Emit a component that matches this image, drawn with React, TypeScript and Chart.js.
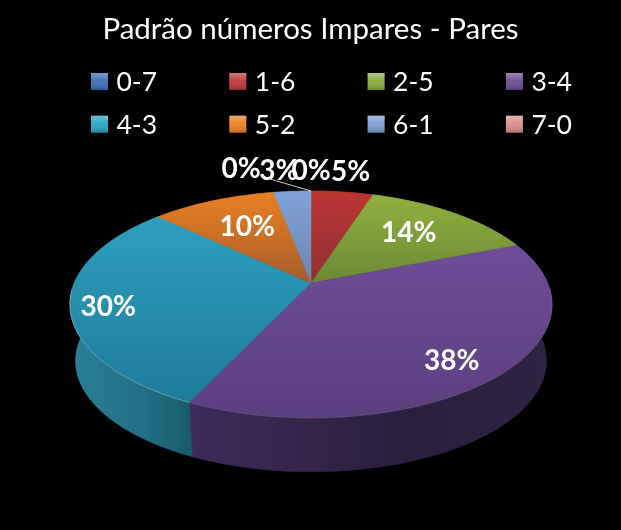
import React, { useEffect, useRef } from "react";
import { Chart, registerables } from "chart.js";

Chart.register(...registerables);

const titleText = "Padrão números Impares - Pares";
const categories = ["0-7", "1-6", "2-5", "3-4", "4-3", "5-2", "6-1", "7-0"];
const values = [0, 5, 14, 38, 30, 10, 3, 0];

// slice styles
const swatchColors = ["#3f6fb5", "#bd3a3c", "#8cae42", "#6c4e96", "#2aa5c3", "#e98226", "#7f9fd2", "#d98f8b"];
const faceLight = ["#4a7ebb", "#bd3535", "#90b03f", "#6e4e97", "#2e9fbf", "#e98022", "#80a2d6", "#d98f8b"];
const faceDark = ["#3a6399", "#8f2f30", "#6c8935", "#5b3e7f", "#1f7b98", "#a65d2a", "#6c86ae", "#b07470"];
const wallStart = ["#2b4a73", "#6d2424", "#556b2a", "#3f2b5c", "#2a8098", "#8a4f1a", "#54688a", "#8a5c58"];
const wallMid = ["#2b4a73", "#6d2424", "#556b2a", "#2a1f3e", "#236f85", "#8a4f1a", "#54688a", "#8a5c58"];
const wallEnd = ["#2b4a73", "#6d2424", "#556b2a", "#2e2344", "#195a6c", "#8a4f1a", "#54688a", "#8a5c58"];
const rimAlpha = [0, 0, 0, 0.1, 0.3, 0, 0, 0];

// per-label layout: radial position on the pie and small nudges in px
const labelRadius = [1.29, 1.29, 0.68, 0.81, 0.85, 0.66, 1.29, 1.29];
const labelNudge = [[0, 1], [1, 1], [-3, 0], [-7, 5], [1, 6], [4, 1], [-9, 1], [-70, -1]];
const leaderIndex = 7;

// perspective of the pie
const CX = 311, APEX_Y = 283, HALF_W = 236.7, HALF_H = 109.4, P = -0.189;
const FLOOR_Y = 340, FLOOR_SCALE = 0.977;

const project = (u: number, v: number, floor = false): [number, number] => {
  const d = 1 + P * v;
  const s = floor ? FLOOR_SCALE : 1;
  return [CX + (s * HALF_W * u) / d, (floor ? FLOOR_Y : APEX_Y) + (s * HALF_H * v) / d];
};

const samples = (a0: number, a1: number) => {
  const out: [number, number][] = [];
  const n = Math.max(2, Math.ceil((a1 - a0) / 0.01));
  for (let i = 0; i <= n; i++) {
    const a = a0 + ((a1 - a0) * i) / n;
    out.push([Math.cos(a), Math.sin(a)]);
  }
  return out;
};

const pie3d = {
  id: "pie3d",
  beforeDatasetsDraw(chart: any) {
    const ctx: CanvasRenderingContext2D = chart.ctx;
    const arcs = chart.getDatasetMeta(0).data;
    ctx.save();
    // side walls
    arcs.forEach((arc: any, i: number) => {
      if (arc.endAngle - arc.startAngle < 1e-4) return;
      const pts = samples(arc.startAngle, arc.endAngle);
      const top = pts.map(([u, v]) => project(u, v));
      const floor = pts.map(([u, v]) => project(u, v, true));
      const xs = top.concat(floor).map((p) => p[0]);
      const g = ctx.createLinearGradient(Math.min(...xs), 0, Math.max(...xs), 0);
      g.addColorStop(0, wallStart[i]);
      g.addColorStop(0.6, wallMid[i]);
      g.addColorStop(1, wallEnd[i]);
      ctx.fillStyle = g;
      ctx.strokeStyle = g;
      ctx.lineWidth = 0.5;
      ctx.beginPath();
      top.forEach((p, k) => (k ? ctx.lineTo(p[0], p[1]) : ctx.moveTo(p[0], p[1])));
      floor.reverse().forEach((p) => ctx.lineTo(p[0], p[1]));
      ctx.closePath();
      ctx.fill();
      ctx.stroke();
    });
    // top faces
    arcs.forEach((arc: any, i: number) => {
      if (arc.endAngle - arc.startAngle < 1e-4) return;
      const top = samples(arc.startAngle, arc.endAngle).map(([u, v]) => project(u, v));
      const ys = top.map((p) => p[1]).concat(APEX_Y);
      const g = ctx.createLinearGradient(0, Math.min(...ys), 0, Math.max(...ys));
      g.addColorStop(0, faceLight[i]);
      g.addColorStop(1, faceDark[i]);
      ctx.fillStyle = g;
      ctx.strokeStyle = g;
      ctx.lineWidth = 0.5;
      ctx.beginPath();
      ctx.moveTo(CX, APEX_Y);
      top.forEach((p) => ctx.lineTo(p[0], p[1]));
      ctx.closePath();
      ctx.fill();
      ctx.stroke();
    });
    // lit front rim
    ctx.lineWidth = 1;
    arcs.forEach((arc: any, i: number) => {
      if (arc.endAngle - arc.startAngle < 1e-4 || !rimAlpha[i]) return;
      ctx.strokeStyle = `rgba(255,255,255,${rimAlpha[i]})`;
      ctx.beginPath();
      let started = false;
      samples(arc.startAngle, arc.endAngle).forEach(([u, v]) => {
        if (v < 0.05) return;
        const p = project(u, v);
        if (started) ctx.lineTo(p[0], p[1]);
        else ctx.moveTo(p[0], p[1]);
        started = true;
      });
      ctx.stroke();
    });
    ctx.restore();
    return false;
  },
  afterDraw(chart: any) {
    const ctx: CanvasRenderingContext2D = chart.ctx;
    const arcs = chart.getDatasetMeta(0).data;
    const total = values.reduce((a, b) => a + b, 0);
    ctx.save();
    // legend
    ctx.font = "400 26.5px Lato";
    ctx.textBaseline = "middle";
    ctx.textAlign = "left";
    categories.forEach((name, i) => {
      const x = 91 + 138.3 * (i % 4);
      const y = 81.5 + 42.7 * Math.floor(i / 4);
      ctx.fillStyle = swatchColors[i];
      ctx.fillRect(x, y - 8.5, 17, 17);
      const g = ctx.createLinearGradient(0, y - 8, 0, y + 8);
      g.addColorStop(0, "rgba(255,255,255,0.3)");
      g.addColorStop(0.45, "rgba(255,255,255,0.05)");
      g.addColorStop(1, "rgba(0,0,0,0.18)");
      ctx.fillStyle = g;
      ctx.fillRect(x, y - 8.5, 17, 17);
      ctx.fillStyle = "#ffffff";
      ctx.fillText(name, x + 25.5, y + 1);
    });
    // leader line
    const lead = arcs[leaderIndex];
    const [lx, ly] = project(Math.cos(lead.startAngle), Math.sin(lead.startAngle));
    ctx.strokeStyle = "#ffffff";
    ctx.lineWidth = 0.8;
    ctx.beginPath();
    ctx.moveTo(lx, ly);
    ctx.lineTo(lx - 41, ly - 12);
    ctx.stroke();
    // value labels
    ctx.font = "700 28px Lato";
    ctx.textAlign = "center";
    arcs.forEach((arc: any, i: number) => {
      const mid = (arc.startAngle + arc.endAngle) / 2;
      const r = labelRadius[i];
      const [x, y] = project(r * Math.cos(mid), r * Math.sin(mid));
      const pct = Math.round((values[i] / total) * 100) + "%";
      ctx.fillText(pct, x + labelNudge[i][0], y + labelNudge[i][1]);
    });
    ctx.restore();
  },
};

export default function App() {
  const ref = useRef<HTMLCanvasElement>(null);
  useEffect(() => {
    const chart = new Chart(ref.current as HTMLCanvasElement, {
      type: "pie",
      data: { labels: categories, datasets: [{ data: values, backgroundColor: faceLight, borderWidth: 0 }] },
      options: {
        animation: false,
        responsive: false,
        rotation: 0,
        layout: { padding: { top: 12 } },
        plugins: {
          legend: { display: false },
          tooltip: { enabled: false },
          title: {
            display: true,
            text: titleText,
            color: "#ffffff",
            font: { family: "Lato", size: 29.5, weight: "normal" },
            padding: { top: 0, bottom: 0 },
          },
        },
      },
      plugins: [pie3d],
    } as any);
    return () => chart.destroy();
  }, []);
  return (
    <div style={{ position: "fixed", left: 0, top: 0, width: 621, height: 530, background: "#000" }}>
      <canvas ref={ref} width={621} height={530} style={{ display: "block" }} />
    </div>
  );
}
